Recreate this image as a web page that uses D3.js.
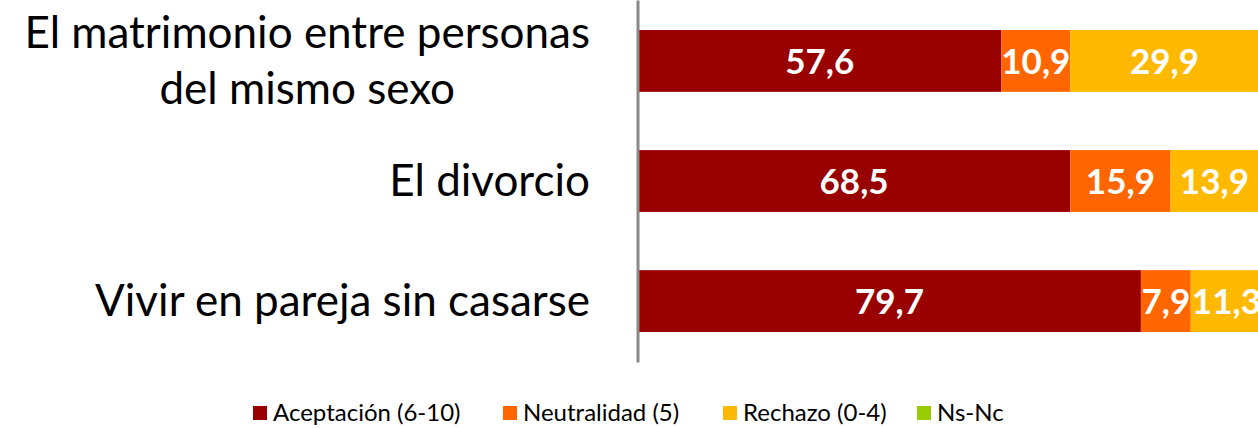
<!DOCTYPE html>
<html>
<head>
<meta charset="utf-8">
<script src="https://cdn.jsdelivr.net/npm/d3@7"></script>
<style>
  body { margin: 0; background: #fff; }
  svg { display: block; font-family: Lato, 'Open Sans', sans-serif; }
</style>
</head>
<body>
<div id="chart"></div>
<script>
const categories = [
  ['El matrimonio entre personas', 'del mismo sexo'],
  ['El divorcio'],
  ['Vivir en pareja sin casarse']
];
const seriesNames = ['Aceptación (6-10)', 'Neutralidad (5)', 'Rechazo (0-4)', 'Ns-Nc'];
const aceptacion = [57.6, 68.5, 79.7];
const neutralidad = [10.9, 15.9, 7.9];
const rechazo = [29.9, 13.9, 11.3];
const nsnc = [1.6, 1.7, 1.1];
const colors = ['#990000', '#FF6600', '#FFB900', '#99CC00'];

const W = 1258, H = 428;
const margin = { t: 0, l: 638, r: 0 };
const plotH = 362;

const svg = d3.select('#chart').append('svg')
  .attr('width', W)
  .attr('height', H);

const keys = ['acep', 'neut', 'rech', 'ns'];
const rows = categories.map((c, i) => ({
  label: c,
  acep: aceptacion[i],
  neut: neutralidad[i],
  rech: rechazo[i],
  ns: nsnc[i]
}));

const stack = d3.stack().keys(keys)(rows);

const x = d3.scaleLinear().domain([0, 100]).range([margin.l, margin.l + 631]);
const y = d3.scaleBand().domain(d3.range(rows.length)).range([0, plotH]).paddingInner(0.485).paddingOuter(0.25);

const plot = svg.append('g').attr('class', 'plot');

stack.forEach((s, k) => {
  const g = plot.append('g').attr('fill', colors[k]);
  g.selectAll('rect')
    .data(s)
    .enter()
    .append('rect')
    .attr('x', d => x(d[0]))
    .attr('width', d => x(d[1]) - x(d[0]))
    .attr('y', (d, i) => y(i))
    .attr('height', y.bandwidth());

  // value labels (Ns-Nc has none visible)
  if (k < 3) {
    g.selectAll('text')
      .data(s)
      .enter()
      .append('text')
      .attr('x', d => (x(d[0]) + x(d[1])) / 2)
      .attr('y', (d, i) => y(i) + y.bandwidth() / 2)
      .attr('dy', '0.36em')
      .attr('text-anchor', 'middle')
      .attr('fill', '#fff')
      .style('font-weight', 'bold')
      .style('font-size', '35px')
      .text(d => d3.format('.1f')(d[1] - d[0]).replace('.', ','));
  }
});

// vertical category axis
const axisY = d3.axisLeft(y).tickSize(0).tickFormat('');
const ax = svg.append('g')
  .attr('transform', `translate(${margin.l - 0.5},0)`)
  .call(axisY);
ax.select('.domain').attr('stroke', '#888').attr('stroke-width', 3);

// category labels, wrapped lines centred, block right-aligned
const labelRight = 590;
const lineH = 56;
rows.forEach((r, i) => {
  const cy = y(i) + y.bandwidth() / 2;
  const t = svg.append('text')
    .attr('text-anchor', 'middle')
    .attr('fill', '#000')
    .style('font-size', '44px');
  const n = r.label.length;
  r.label.forEach((line, j) => {
    t.append('tspan')
      .attr('x', 0)
      .attr('y', cy + (j - (n - 1) / 2) * lineH)
      .attr('dy', '0.35em')
      .text(line);
  });
  const w = d3.max(t.selectAll('tspan').nodes(), nd => nd.getComputedTextLength());
  t.selectAll('tspan').attr('x', labelRight - w / 2);
});

// legend
const legendX = [253, 503, 723, 917];
const legend = svg.append('g').attr('transform', 'translate(0,413)');
seriesNames.forEach((name, i) => {
  const it = legend.append('g').attr('transform', `translate(${legendX[i]},0)`);
  it.append('rect')
    .attr('x', 0).attr('y', -7)
    .attr('width', 14).attr('height', 14)
    .attr('fill', colors[i]);
  it.append('text')
    .attr('x', 20)
    .attr('dy', '0.35em')
    .style('font-size', '24px')
    .attr('fill', '#000')
    .text(name);
});
</script>
</body>
</html>
